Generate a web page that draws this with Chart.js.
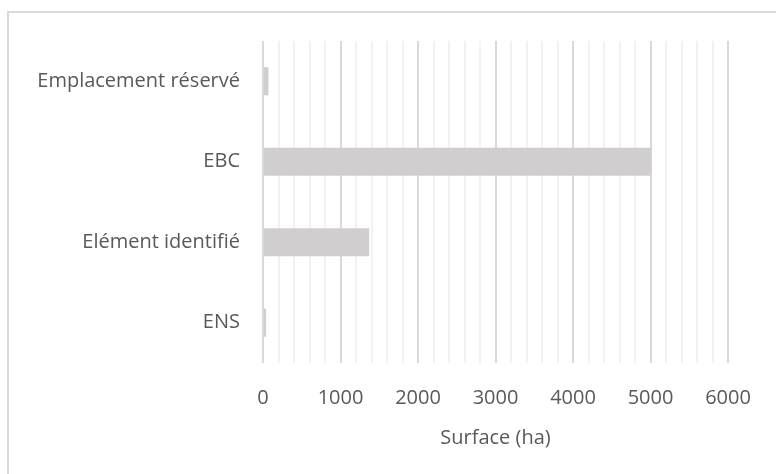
<!DOCTYPE html>
<html>
<head>
<meta charset="utf-8">
<script src="https://cdn.jsdelivr.net/npm/chart.js@4/dist/chart.umd.min.js"></script>
<style>
  html, body { margin: 0; padding: 0; background: #fff; }
  #wrap { position: relative; width: 776px; height: 474px; overflow: hidden; }
  #frame { position: absolute; left: 7px; top: 11px; width: 900px; height: 600px; border: 2px solid #d9d9d9; box-sizing: border-box; }
  canvas { position: absolute; left: 0; top: 0; }
</style>
</head>
<body>
<div id="wrap">
  <div id="frame"></div>
  <canvas id="chart" width="776" height="474"></canvas>
</div>
<script>
const categories = ['Emplacement réservé', 'EBC', 'Elément identifié', 'ENS'];
const surfaces = [70, 5010, 1370, 40];
const xMax = 6000;
const xMajor = 1000;
const xMinor = 200;
const axisTitle = 'Surface (ha)';

document.addEventListener("DOMContentLoaded", function () {
    const font = { family: "'Open Sans', 'Noto Sans', sans-serif", size: 20 };
    new Chart(document.getElementById('chart').getContext('2d'), {
        type: 'bar',
        data: { labels: categories, datasets: [{
            data: surfaces, backgroundColor: '#d0cece', borderWidth: 0,
            barPercentage: 0.35, categoryPercentage: 1
        }]},
        options: {
            indexAxis: 'y', responsive: false, animation: false,
            layout: { padding: { top: 41, right: 48, left: 0, bottom: 24 } },
            plugins: { legend: { display: false }, tooltip: { enabled: false } },
            scales: {
                x: {
                    min: 0, max: xMax,
                    border: { display: false },
                    grid: {
                        drawTicks: false, lineWidth: 2,
                        color: ctx => (ctx.tick && ctx.tick.value % xMajor === 0) ? '#d9d9d9' : '#f2f2f2'
                    },
                    ticks: {
                        stepSize: xMinor, autoSkip: false, maxRotation: 0, padding: 23,
                        color: '#595959', font: font,
                        callback: v => v % xMajor === 0 ? String(v) : ''
                    },
                    title: { display: true, text: axisTitle, color: '#595959', font: font, padding: { top: 6, bottom: 0 } },
                    afterFit: s => { s.height = 87; }
                },
                y: {
                    border: { display: false },
                    grid: { display: false, drawTicks: false },
                    ticks: { color: '#595959', font: font, padding: 23 },
                    afterFit: s => { s.width = 263; }
                }
            }
        }
    });
});
</script>
</body>
</html>
